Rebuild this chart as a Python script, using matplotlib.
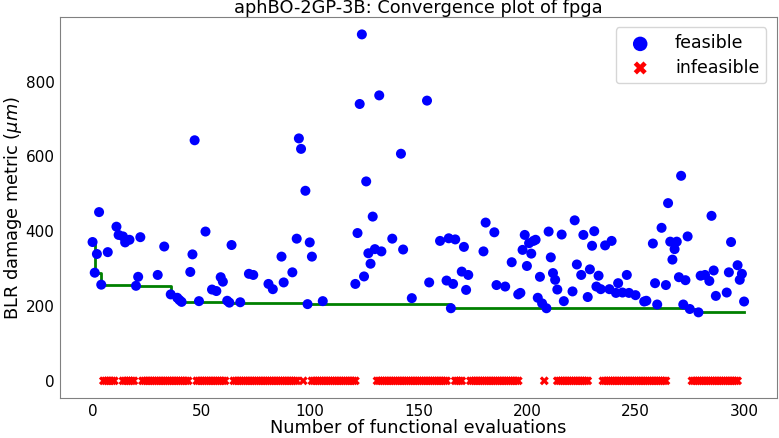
import numpy as np
import matplotlib
matplotlib.use('Agg')
import matplotlib.pyplot as plt

# feasible evaluations (index, damage metric)
feas_x = [0, 1, 2, 3, 4, 7, 11, 12, 14, 15, 17, 20, 21, 22, 30, 33, 36, 39, 40, 41,
          45, 46, 47, 49, 52, 55, 57, 59, 60, 62, 63, 64, 68, 72, 74, 81, 83, 87, 88, 92,
          94, 95, 96, 98, 99, 100, 101, 106, 121, 122, 123, 124, 125, 126, 127, 128, 129, 130, 132, 133,
          138, 142, 143, 147, 154, 155, 160, 163, 164, 165, 166, 167, 170, 171, 172, 173, 180, 181, 185, 186,
          190, 193, 196, 197, 198, 199, 200, 201, 202, 203, 204, 205, 206, 207, 209, 210, 211, 212, 213, 214,
          216, 217, 221, 222, 223, 225, 226, 228, 229, 230, 231, 232, 233, 234, 236, 238, 239, 241, 242, 244,
          246, 247, 250, 254, 255, 258, 259, 260, 262, 264, 265, 266, 267, 268, 269, 270, 271, 272, 273, 274,
          275, 279, 280, 282, 284, 285, 286, 287, 292, 293, 294, 297, 298, 299, 300]
feas_y = [371, 289, 339, 451, 257, 344, 412, 390, 386, 370, 377, 254, 278, 384, 283, 359, 231, 222, 216, 211,
          291, 338, 643, 213, 399, 244, 240, 277, 265, 214, 209, 363, 210, 286, 283, 259, 245, 332, 263, 290,
          380, 648, 620, 508, 205, 370, 332, 213, 259, 395, 740, 926, 279, 533, 341, 313, 439, 352, 763, 346,
          380, 607, 351, 221, 749, 263, 374, 268, 381, 194, 259, 378, 292, 358, 243, 283, 346, 423, 397, 256,
          252, 317, 231, 235, 350, 390, 307, 368, 340, 374, 377, 222, 278, 207, 194, 399, 330, 288, 270, 244,
          391, 213, 239, 429, 311, 283, 390, 224, 298, 361, 400, 252, 281, 245, 362, 245, 374, 235, 261, 236,
          283, 235, 229, 212, 214, 367, 261, 204, 409, 256, 475, 372, 324, 352, 372, 277, 548, 204, 269, 386,
          192, 183, 281, 283, 267, 441, 295, 227, 236, 290, 371, 309, 270, 286, 212]

# infeasible evaluations (plotted at 0)
infeas_x = [5, 6, 7, 8, 9, 10, 14, 15, 16, 17, 18, 19,
            23, 24, 25, 26, 27, 28, 29, 30, 31, 32, 33, 34, 35, 36, 37, 38, 39, 40, 41, 42, 43, 44,
            48, 49, 50, 51, 52, 53, 54, 55, 56, 57, 58, 59, 60, 61,
            65, 66, 67, 68, 69, 70, 71, 72, 73, 74, 75, 76, 77, 78, 79, 80, 81, 82, 83, 84,
            85, 86, 87, 88, 89, 90, 91, 92, 93, 94, 97,
            101, 102, 103, 104, 105, 106, 107, 108, 109, 110, 111, 112, 113, 114, 115, 116, 117, 118, 119, 120, 121,
            131, 132, 133, 134, 135, 136, 137, 138, 139, 140, 141, 142, 143, 144, 145, 146, 147,
            148, 149, 150, 151, 152, 153, 154, 155, 156, 157, 158, 159, 160, 161, 162, 163,
            167, 168, 169, 170,
            174, 175, 176, 177, 178, 179, 180, 181, 182, 183, 184, 185, 186, 187, 188, 189, 190,
            191, 192, 193, 194, 195, 196, 208,
            214, 215, 216, 217, 218, 219, 220, 221, 222, 223, 224, 225, 226, 227, 228,
            235, 236, 237, 238, 239, 240, 241, 242, 243, 244, 245, 246, 247, 248, 249, 250,
            251, 252, 253, 254, 255, 256, 257, 258, 259, 260, 261, 262, 263, 264,
            276, 277, 278, 279, 280, 281, 282, 283, 284, 285, 286, 287, 288, 289, 290, 291,
            292, 293, 294, 295, 296, 297]

best_so_far = np.minimum.accumulate(feas_y)

fig = plt.figure(figsize=(7.79, 4.38), dpi=100)
ax = fig.add_axes([0.077, 0.091, 0.92, 0.870])

ax.scatter(feas_x, feas_y, s=52, c='blue', edgecolors='none', label='feasible', zorder=3)
ax.scatter(infeas_x, np.zeros(len(infeas_x)), s=42, c='red', marker='X',
           edgecolors='none', label='infeasible', zorder=3)
ax.step(feas_x, best_so_far, where='post', color='green', lw=2, zorder=2)

ax.set_title('aphBO-2GP-3B: Convergence plot of fpga', fontsize=12.8, pad=2)
ax.set_xlabel('Number of functional evaluations', fontsize=12.8, labelpad=0)
ax.set_ylabel(r'BLR damage metric ($\mu m$)', fontsize=12.8, labelpad=1)
ax.tick_params(labelsize=11, length=0, pad=4)
for sp in ax.spines.values():
    sp.set_color('#808080')

ax.legend(loc='upper right', fontsize=12.5, markerscale=1.45, borderpad=0.4,
          handletextpad=1.0, labelspacing=0.35, borderaxespad=0.6)

fig.savefig('out.png', dpi=100)
